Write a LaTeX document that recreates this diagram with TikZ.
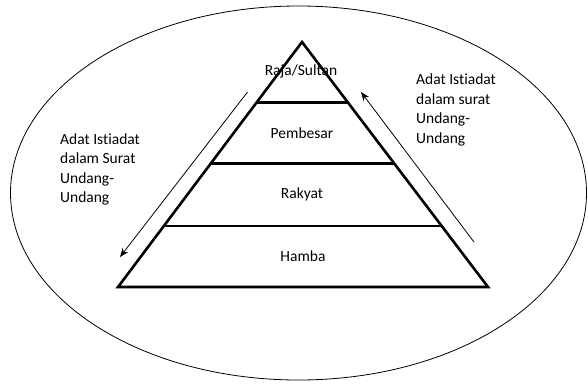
\documentclass[tikz,border=0pt]{standalone}
\usepackage{fontspec}
\setmainfont{Carlito}[Ligatures=NoCommon]
\usetikzlibrary{arrows.meta}
\tikzset{
  layer/.style={line width=2.6bp, line join=miter},
  lbl/.style={inner sep=0pt, font=\fontsize{15.5bp}{19.5bp}\selectfont},
  side/.style={inner sep=0pt, align=left, anchor=west, font=\fontsize{15.5bp}{19.5bp}\selectfont},
  flow/.style={line width=0.8bp, -{Stealth[length=9bp,width=7bp]}}
}
\begin{document}
\begin{tikzpicture}[x=1bp,y=-1bp]
\useasboundingbox (0,0) rectangle (588,383);
% outer ellipse
\draw[line width=0.8bp] (298.5,193) ellipse [x radius=288, y radius=187];
% pyramid
\coordinate (apex) at (302,42);
\coordinate (bl) at (118,287);
\coordinate (br) at (488,287);
\draw[layer] (apex) -- (bl) -- (br) -- cycle;
\path (apex) -- (bl) coordinate[pos=0.2465] (l1) coordinate[pos=0.4959] (l2) coordinate[pos=0.7510] (l3);
\path (apex) -- (br) coordinate[pos=0.2465] (r1) coordinate[pos=0.4959] (r2) coordinate[pos=0.7510] (r3);
\draw[layer] (l1) -- (r1);
\draw[layer] (l2) -- (r2);
\draw[layer] (l3) -- (r3);
% layer labels
\node[lbl] (raja) at (301,71) {Raja/Sultan};
\node[lbl] (pemb) at (302,133) {Pembesar};
\node[lbl] (rakyat) at (302,194) {Rakyat};
\node[lbl] (hamba) at (303,256) {Hamba};
% side texts
\node[side] (ltext) at (60,169.5) {Adat Istiadat\\dalam Surat\\Undang-\\Undang};
\node[side] (rtext) at (416,110) {Adat Istiadat\\dalam surat\\Undang-\\Undang};
% arrows
\coordinate (la) at (247.5,92);
\coordinate (lb) at (120,257);
\coordinate (ra) at (474,242);
\coordinate (rb) at (361,92);
\draw[flow] (la) -- (lb);
\draw[flow] (ra) -- (rb);
\end{tikzpicture}
\end{document}
